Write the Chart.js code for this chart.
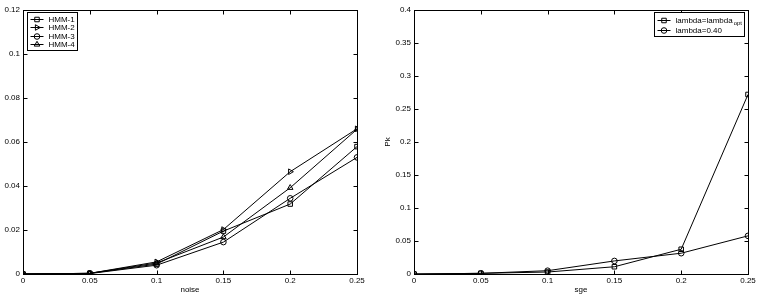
<!DOCTYPE html>
<html lang="en">
<head>
    <meta charset="UTF-8">
    <title>Pk vs noise / sge</title>
    <style>
        html, body {
            margin: 0;
            padding: 0;
            background: #fff;
            width: 758px;
            height: 301px;
            overflow: hidden;
            position: relative;
        }
        canvas {
            position: absolute;
            top: 0;
        }
        #left-chart { left: -12px; }
        #right-chart { left: 379px; }
    </style>
    <script src="https://cdn.jsdelivr.net/npm/chart.js"></script>
</head>
<body>

<canvas id="left-chart" width="391" height="301"></canvas>
<canvas id="right-chart" width="379" height="301"></canvas>

<script>
// Left panel: Pk against noise for four HMMs
const noiseLevels = [0, 0.05, 0.1, 0.15, 0.2, 0.25];
const hmm1 = [0, 0.0003, 0.0045, 0.0195, 0.0318, 0.0579];
const hmm2 = [0, 0.0003, 0.0055, 0.0202, 0.0465, 0.0660];
const hmm3 = [0, 0.0002, 0.0040, 0.0145, 0.0344, 0.0530];
const hmm4 = [0, 0.0003, 0.0050, 0.0168, 0.0392, 0.0658];
const leftLabels = ['HMM-1', 'HMM-2', 'HMM-3', 'HMM-4'];
const leftYTicks = [0, 0.02, 0.04, 0.06, 0.08, 0.1, 0.12];

// Right panel: Pk against sge for two lambdas
const sgeLevels = [0, 0.05, 0.1, 0.15, 0.2, 0.25];
const lambdaOpt = [0, 0.001, 0.003, 0.011, 0.0375, 0.272];
const lambda040 = [0, 0.001, 0.005, 0.0198, 0.0315, 0.0578];
const rightLabels = ['lambda=lambda_opt', 'lambda=0.40'];
const rightYTicks = [0, 0.05, 0.1, 0.15, 0.2, 0.25, 0.3, 0.35, 0.4];

const xTicks = [0, 0.05, 0.1, 0.15, 0.2, 0.25];

const FONT = "'Liberation Sans', Arial, sans-serif";
const fmt = v => String(+(+v).toFixed(4));

function pts(xs, ys) {
    return xs.map((x, i) => ({ x: x, y: ys[i] }));
}

function series(label, xs, ys, style, rotation) {
    return {
        label: label,
        data: pts(xs, ys),
        borderColor: '#000',
        borderWidth: 1,
        pointStyle: style,
        rotation: rotation || 0,
        pointRadius: style === 'circle' ? 2.8 : 3.2,
        pointBorderColor: '#000',
        pointBackgroundColor: 'rgba(0,0,0,0)',
        pointBorderWidth: 1,
        tension: 0
    };
}

// box, inward ticks on all four sides and an in-axes legend (MATLAB look)
const boxPlugin = {
    id: 'box',
    afterDraw(chart, args, opts) {
        const ctx = chart.ctx;
        const a = chart.chartArea;
        const xs = chart.scales.x, ys = chart.scales.y;
        const L = Math.round(a.left) + 0.5, R = Math.round(a.right) + 0.5;
        const T = Math.round(a.top) + 0.5, B = Math.round(a.bottom) + 0.5;
        ctx.save();
        ctx.strokeStyle = '#000';
        ctx.lineWidth = 1;
        ctx.strokeRect(L, T, R - L, B - T);
        ctx.beginPath();
        xs.ticks.forEach(t => {
            const px = Math.round(xs.getPixelForValue(t.value)) + 0.5;
            ctx.moveTo(px, B); ctx.lineTo(px, B - 4);
            ctx.moveTo(px, T); ctx.lineTo(px, T + 4);
        });
        ys.ticks.forEach(t => {
            const py = Math.round(ys.getPixelForValue(t.value)) + 0.5;
            ctx.moveTo(L, py); ctx.lineTo(L + 4, py);
            ctx.moveTo(R, py); ctx.lineTo(R - 4, py);
        });
        ctx.stroke();

        // legend
        const ds = chart.data.datasets;
        const rowH = opts.rowH;
        const subFont = '6px ' + FONT;
        let textW = 0;
        ds.forEach(d => {
            const parts = d.label.split('_');
            ctx.font = '8px ' + FONT;
            let w = ctx.measureText(parts[0]).width;
            if (parts[1]) { ctx.font = subFont; w += ctx.measureText(parts[1]).width + 1; }
            textW = Math.max(textW, w);
        });
        const boxW = Math.round(21 + textW + 3);
        const boxH = Math.round(ds.length * rowH + 4);
        const bx = opts.side === 'left' ? L + 4 : R - 4 - boxW;
        const by = T + 2;
        ctx.fillStyle = '#fff';
        ctx.fillRect(bx, by, boxW, boxH);
        ctx.strokeRect(bx, by, boxW, boxH);
        ds.forEach((d, i) => {
            const cy = Math.round(by + 2 + rowH * (i + 0.5)) + 0.5;
            ctx.beginPath();
            ctx.moveTo(bx + 3, cy); ctx.lineTo(bx + 16, cy);
            ctx.stroke();
            ctx.fillStyle = 'rgba(0,0,0,0)';
            Chart.helpers.drawPoint(ctx, {
                pointStyle: d.pointStyle,
                rotation: d.rotation || 0,
                radius: d.pointRadius,
                borderWidth: 1
            }, bx + 9.5, cy);
            const parts = d.label.split('_');
            ctx.fillStyle = '#000';
            ctx.textBaseline = 'middle';
            ctx.textAlign = 'left';
            ctx.font = '8px ' + FONT;
            ctx.fillText(parts[0], bx + 21, cy);
            if (parts[1]) {
                const w0 = ctx.measureText(parts[0]).width;
                ctx.font = subFont;
                ctx.fillText(parts[1], bx + 22 + w0, cy + 3);
            }
        });
        ctx.restore();
    }
};

function makeChart(id, datasets, xTitle, yTicks, yMax, padRight, side, rowH) {
    return new Chart(document.getElementById(id).getContext('2d'), {
        type: 'line',
        data: { datasets: datasets },
        options: {
            responsive: false,
            animation: false,
            devicePixelRatio: 1,
            layout: { padding: { top: 10, right: padRight, left: 0, bottom: 0 } },
            plugins: {
                legend: { display: false },
                tooltip: { enabled: false },
                box: { side: side, rowH: rowH }
            },
            scales: {
                x: {
                    type: 'linear',
                    min: 0,
                    max: 0.25,
                    afterBuildTicks: s => { s.ticks = xTicks.map(v => ({ value: v })); },
                    afterFit: s => { s.height = 27; },
                    ticks: { callback: fmt, color: '#000', font: { family: FONT, size: 8 }, padding: 2, maxRotation: 0 },
                    grid: { display: false, drawTicks: false, tickLength: 0 },
                    border: { display: false },
                    title: { display: true, text: xTitle, color: '#000', font: { family: FONT, size: 8 }, padding: { top: 0, bottom: 6 } }
                },
                y: {
                    type: 'linear',
                    min: 0,
                    max: yMax,
                    afterBuildTicks: s => { s.ticks = yTicks.map(v => ({ value: v })); },
                    afterFit: s => { s.width = 35; },
                    ticks: { callback: fmt, color: '#000', font: { family: FONT, size: 8 }, padding: 3 },
                    grid: { display: false, drawTicks: false, tickLength: 0 },
                    border: { display: false },
                    title: { display: true, text: 'Pk', color: '#000', font: { family: FONT, size: 8 }, padding: { top: 4, bottom: 0 } }
                }
            }
        },
        plugins: [boxPlugin]
    });
}

makeChart('left-chart', [
    series(leftLabels[0], noiseLevels, hmm1, 'rect'),
    series(leftLabels[1], noiseLevels, hmm2, 'triangle', 90),
    series(leftLabels[2], noiseLevels, hmm3, 'circle'),
    series(leftLabels[3], noiseLevels, hmm4, 'triangle')
], 'noise', leftYTicks, 0.12, 22, 'left', 8.5);

makeChart('right-chart', [
    series(rightLabels[0], sgeLevels, lambdaOpt, 'rect'),
    series(rightLabels[1], sgeLevels, lambda040, 'circle')
], 'sge', rightYTicks, 0.4, 10, 'right', 10);
</script>

</body>
</html>
